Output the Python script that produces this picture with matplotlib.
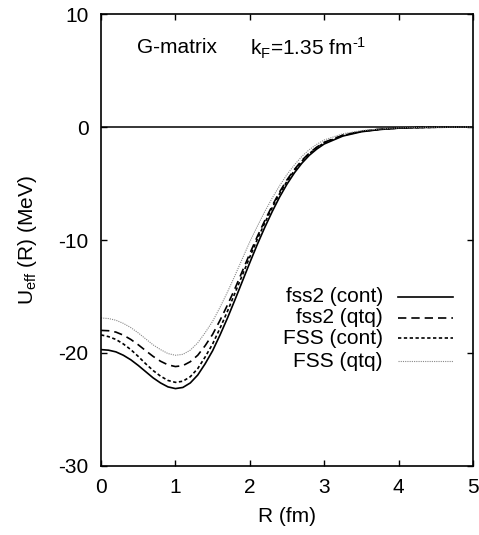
import matplotlib
matplotlib.use("Agg")
import matplotlib.pyplot as plt

plt.rcParams['font.family'] = ['Liberation Sans', 'DejaVu Sans']
plt.rcParams['mathtext.fontset'] = 'custom'
plt.rcParams['mathtext.rm'] = 'Liberation Sans'
plt.rcParams['mathtext.it'] = 'Liberation Sans'
plt.rcParams['axes.unicode_minus'] = False

# R grid (fm)
R = [0.0, 0.1, 0.2, 0.3, 0.4, 0.5, 0.6, 0.7, 0.8, 0.9, 1.0, 1.1, 1.2, 1.3, 1.4,
     1.5, 1.6, 1.7, 1.8, 1.9, 2.0, 2.1, 2.2, 2.3, 2.4, 2.5, 2.6, 2.7, 2.8, 2.9,
     3.0, 3.25, 3.5, 3.75, 4.0, 4.25, 4.5, 5.0]

# U_eff (MeV)
fss2_cont = [-19.70, -19.75, -19.90, -20.20, -20.60, -21.10, -21.65, -22.20, -22.65, -23.00,
             -23.15, -23.05, -22.65, -21.95, -20.95, -19.80, -18.40, -16.90, -15.30, -13.65,
             -12.00, -10.40, -8.90, -7.50, -6.20, -5.05, -4.05, -3.20, -2.50, -1.95,
             -1.50, -0.80, -0.42, -0.22, -0.10, -0.05, -0.02, 0.0]
fss2_qtq = [-18.00, -18.03, -18.15, -18.42, -18.80, -19.27, -19.79, -20.30, -20.73, -21.05,
            -21.20, -21.12, -20.77, -20.20, -19.35, -18.35, -17.10, -15.75, -14.30, -12.75,
            -11.20, -9.70, -8.30, -6.98, -5.75, -4.67, -3.75, -2.95, -2.30, -1.78,
            -1.35, -0.72, -0.38, -0.20, -0.09, -0.04, -0.02, 0.0]
fss_cont = [-18.40, -18.55, -18.80, -19.20, -19.70, -20.30, -20.95, -21.55, -22.05, -22.43,
            -22.60, -22.50, -22.10, -21.38, -20.35, -19.20, -17.80, -16.30, -14.70, -13.10,
            -11.50, -9.95, -8.50, -7.15, -5.90, -4.80, -3.85, -3.02, -2.35, -1.83,
            -1.40, -0.74, -0.39, -0.20, -0.09, -0.05, -0.02, 0.0]
fss_qtq = [-16.90, -16.95, -17.10, -17.38, -17.75, -18.22, -18.75, -19.28, -19.70, -20.05,
           -20.20, -20.12, -19.75, -19.10, -18.20, -17.20, -15.95, -14.60, -13.15, -11.65,
           -10.15, -8.80, -7.50, -6.30, -5.20, -4.20, -3.35, -2.60, -2.00, -1.53,
           -1.15, -0.60, -0.32, -0.17, -0.08, -0.04, -0.02, 0.0]

labels = ["fss2 (cont)", "fss2 (qtq)", "FSS (cont)", "FSS (qtq)"]
series = [fss2_cont, fss2_qtq, fss_cont, fss_qtq]
styles = [dict(color='black', lw=1.2, ls='-'),
          dict(color='black', lw=1.2, ls=(0, (5, 3))),
          dict(color='black', lw=1.2, ls=(0, (2, 1.5))),
          dict(color='#888888', lw=0.8, ls=(0, (1, 1)))]

fig = plt.figure(figsize=(4.79, 5.35), dpi=100)
ax = fig.add_axes([0.2109, 0.129, 0.7766, 0.8448])

ax.axhline(0, color='black', lw=1.1)
for y, st in zip(series, styles):
    ax.plot(R, y, **st)

# gnuplot style key: right-aligned text, sample to the right
key_y = [0.374, 0.328, 0.283, 0.232]
for lab, st, ky in zip(labels, styles, key_y):
    ax.text(0.758, ky, lab, transform=ax.transAxes, ha='right', va='center', fontsize=15)
    ax.plot([0.798, 0.946], [ky, ky], transform=ax.transAxes, **st)

ax.text(0.097, 0.925, "G-matrix", transform=ax.transAxes,
        ha='left', va='center', fontsize=15)
ax.text(0.400, 0.925, r"k$_\mathrm{F}$=1.35 fm$^{\text{-1}}$", transform=ax.transAxes,
        ha='left', va='center', fontsize=15)

ax.set_xlim(0, 5)
ax.set_ylim(-30, 10)
ax.set_xticks([0, 1, 2, 3, 4, 5])
ax.set_yticks([-30, -20, -10, 0, 10])
ax.tick_params(direction='in', length=4, width=1, top=True, right=True, labelsize=15, pad=9)
for s in ax.spines.values():
    s.set_linewidth(1.2)

ax.set_xlabel("R (fm)", fontsize=15, labelpad=7)
ax.set_ylabel(r"U$_\mathrm{eff}$ (R) (MeV)", fontsize=15, labelpad=14)

fig.savefig("out.png", dpi=100)
